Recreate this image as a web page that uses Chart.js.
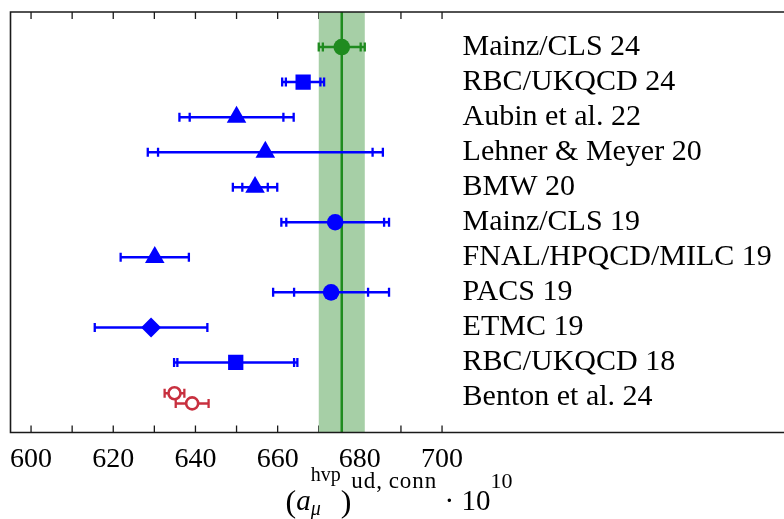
<!DOCTYPE html>
<html>
<head>
<meta charset="utf-8">
<script src="https://cdn.jsdelivr.net/npm/chart.js@4.4.1/dist/chart.umd.min.js"></script>
<style>
html,body{margin:0;padding:0;background:#fff;overflow:hidden;}
#wrap{width:784px;height:519px;position:relative;overflow:hidden;}
#c{display:block;width:784px;height:519px;}
</style>
</head>
<body>
<div id="wrap"><canvas id="c" width="784" height="519"></canvas></div>
<script>
// ---------------- data ----------------
const labels = ['Mainz/CLS 24','RBC/UKQCD 24','Aubin et al. 22','Lehner & Meyer 20','BMW 20',
                'Mainz/CLS 19','FNAL/HPQCD/MILC 19','PACS 19','ETMC 19','RBC/UKQCD 18','Benton et al. 24'];
const labelRows = [1,2,3,4,5,6,7,8,9,10,11];

// Mainz/CLS 24 (green, also the band)
const greenValues = [675.6];
const greenStat   = [4.6];
const greenTot    = [5.6];
const greenRows   = [1];

// other lattice results (blue)
const blueValues  = [666.2, 650.0, 657.0, 654.5, 674.0, 630.1, 673.0, 629.2, 649.8];
const blueStat    = [4.2, 11.4, 26.1, 3.1, 11.9, 8.3, 9.0, 13.7, 14.2];
const blueTot     = [5.1, 13.9, 28.6, 5.4, 13.1, 8.3, 14.1, 13.7, 15.0];
const blueRows    = [2, 3, 4, 5, 6, 7, 8, 9, 10];
const blueMarkers = ['rect','triangle','triangle','triangle','circle','triangle','circle','rectRot','rect'];

// Benton et al. 24 (red open circles)
const redValues = [634.9, 639.2];
const redErr    = [2.4, 4.0];
const redRows   = [10.88, 11.17];

// band
const bandCenter = [675.6];
const bandHalf   = [5.6];

// axis ticks
const xTickLabels = [600, 620, 640, 660, 680, 700];
const xTickMarks  = [600, 610, 620, 630, 640, 650, 660, 670, 680, 690, 700];

// ---------------- styles ----------------
const BLUE = '#0000ff';
const GREEN = '#1f8b1f';
const RED = '#c8303f';
const BAND = '#a6cfa6';
const markerRadius = {rect: 10.8, triangle: 11.3, circle: 8.3, rectRot: 10};
const SERIF = '"Liberation Serif", "Times New Roman", serif';

const toPts = (vals, rows) => vals.map((v, i) => ({x: v, y: rows[i]}));

function drawErrBar(ctx, xs, ys, v, stat, tot, row, color) {
  const y = ys.getPixelForValue(row);
  const x0 = xs.getPixelForValue(v - tot), x1 = xs.getPixelForValue(v + tot);
  ctx.save();
  ctx.strokeStyle = color;
  ctx.lineWidth = 2.5;
  ctx.beginPath();
  ctx.moveTo(x0, y); ctx.lineTo(x1, y);
  ctx.stroke();
  ctx.lineWidth = 2.3;
  ctx.beginPath();
  const caps = [v - tot, v + tot];
  if (Math.abs(stat - tot) > 1e-6) caps.push(v - stat, v + stat);
  caps.forEach(c => {
    const xc = xs.getPixelForValue(c);
    ctx.moveTo(xc, y - 4.5); ctx.lineTo(xc, y + 4.5);
  });
  ctx.stroke();
  ctx.restore();
}

const decoPlugin = {
  id: 'deco',
  beforeDatasetsDraw(chart) {
    const {ctx, chartArea: a, scales: {x: xs, y: ys}} = chart;
    // inward tick marks (top and bottom)
    ctx.save();
    ctx.strokeStyle = '#1a1a1a';
    ctx.lineWidth = 1.3;
    ctx.beginPath();
    xTickMarks.forEach(t => {
      const px = xs.getPixelForValue(t);
      ctx.moveTo(px, a.top); ctx.lineTo(px, a.top + 7);
      ctx.moveTo(px, a.bottom); ctx.lineTo(px, a.bottom - 7);
    });
    ctx.stroke();
    // band
    const bl = xs.getPixelForValue(bandCenter[0] - bandHalf[0]);
    const br = xs.getPixelForValue(bandCenter[0] + bandHalf[0]);
    ctx.fillStyle = BAND;
    ctx.fillRect(bl, a.top, br - bl, a.bottom - a.top);
    const bc = xs.getPixelForValue(bandCenter[0]);
    ctx.strokeStyle = GREEN;
    ctx.lineWidth = 2.5;
    ctx.beginPath(); ctx.moveTo(bc, a.top); ctx.lineTo(bc, a.bottom); ctx.stroke();
    ctx.restore();
    // error bars
    greenValues.forEach((v, i) => drawErrBar(ctx, xs, ys, v, greenStat[i], greenTot[i], greenRows[i], GREEN));
    blueValues.forEach((v, i) => drawErrBar(ctx, xs, ys, v, blueStat[i], blueTot[i], blueRows[i], BLUE));
    redValues.forEach((v, i) => drawErrBar(ctx, xs, ys, v, redErr[i], redErr[i], redRows[i], RED));
  },
  afterDraw(chart) {
    const {ctx, chartArea: a, scales: {x: xs, y: ys}} = chart;
    ctx.save();
    // frame (left, top, bottom; right edge lies beyond the canvas)
    ctx.strokeStyle = '#1a1a1a';
    ctx.lineWidth = 1.6;
    ctx.beginPath();
    ctx.moveTo(a.right + 5, a.top); ctx.lineTo(a.left, a.top); ctx.lineTo(a.left, a.bottom); ctx.lineTo(a.right + 5, a.bottom);
    ctx.stroke();
    // row labels
    ctx.fillStyle = '#000';
    ctx.font = '30px ' + SERIF;
    ctx.textBaseline = 'middle';
    ctx.textAlign = 'left';
    const lx = xs.getPixelForValue(705.0);
    labels.forEach((t, i) => ctx.fillText(t, lx, ys.getPixelForValue(labelRows[i])));
    // x-axis title: (a_mu^hvp)^{ud, conn} . 10^{10}
    const pieces = [
      {t: '(', f: '32px ' + SERIF, dy: 2},
      {t: 'a', f: 'italic 29px ' + SERIF, dy: 0},
      {stack: [{t: 'hvp', f: '20px ' + SERIF, dy: -29}, {t: 'μ', f: 'italic 20px ' + SERIF, dy: 5}]},
      {t: ')', f: '32px ' + SERIF, dy: 2},
      {t: 'ud,\u2009conn', f: '23px ' + SERIF, dy: -22, ls: 1.0},
      {t: ' · 10', f: '29px ' + SERIF, dy: 0},
      {t: '10', f: '22px ' + SERIF, dy: -22}
    ];
    const measure = p => {
      if (p.stack) return Math.max(...p.stack.map(measure));
      ctx.font = p.f;
      return ctx.measureText(p.t).width + (p.ls ? p.ls * p.t.length : 0);
    };
    const total = pieces.reduce((s, p) => s + measure(p), 0);
    let x = 399 - total / 2;
    const base = 510;
    ctx.textBaseline = 'alphabetic';
    const drawPiece = (p, px) => {
      ctx.font = p.f;
      if (p.ls) {
        let cx = px;
        for (const ch of p.t) { ctx.fillText(ch, cx, base + p.dy); cx += ctx.measureText(ch).width + p.ls; }
      } else {
        ctx.fillText(p.t, px, base + p.dy);
      }
    };
    pieces.forEach(p => {
      const w = measure(p);
      if (p.stack) p.stack.forEach(s => drawPiece(s, x));
      else drawPiece(p, x);
      x += w;
    });
    ctx.restore();
  }
};

new Chart(document.getElementById('c'), {
  type: 'scatter',
  data: {
    datasets: [
      {
        data: toPts(greenValues, greenRows),
        pointStyle: 'circle', pointRadius: 8.3, pointHoverRadius: 8.3,
        backgroundColor: GREEN, borderWidth: 0
      },
      {
        data: toPts(blueValues, blueRows),
        pointStyle: blueMarkers,
        pointRadius: blueMarkers.map(m => markerRadius[m]),
        pointHoverRadius: blueMarkers.map(m => markerRadius[m]),
        backgroundColor: BLUE, borderWidth: 0
      },
      {
        data: toPts(redValues, redRows),
        pointStyle: 'circle', pointRadius: 6, pointHoverRadius: 6,
        backgroundColor: '#ffffff', borderColor: RED, borderWidth: 2.6
      }
    ]
  },
  options: {
    responsive: false,
    animation: false,
    events: [],
    layout: {autoPadding: false, padding: {left: 10.5, right: 0, top: 12, bottom: 0}},
    plugins: {legend: {display: false}, tooltip: {enabled: false}},
    scales: {
      x: {
        type: 'linear', min: 595, max: 783.2, position: 'bottom',
        grid: {display: false, drawTicks: false},
        border: {display: false},
        afterBuildTicks: s => { s.ticks = xTickLabels.map(v => ({value: v})); },
        afterFit: s => { s.height = 86.5; s.paddingLeft = 0; s.paddingRight = 0; },
        ticks: {font: {family: SERIF, size: 28}, color: '#000', padding: 10, maxRotation: 0, autoSkip: false}
      },
      y: {type: 'linear', min: 0, max: 12, reverse: true, display: false}
    }
  },
  plugins: [decoPlugin]
});
</script>
</body>
</html>
